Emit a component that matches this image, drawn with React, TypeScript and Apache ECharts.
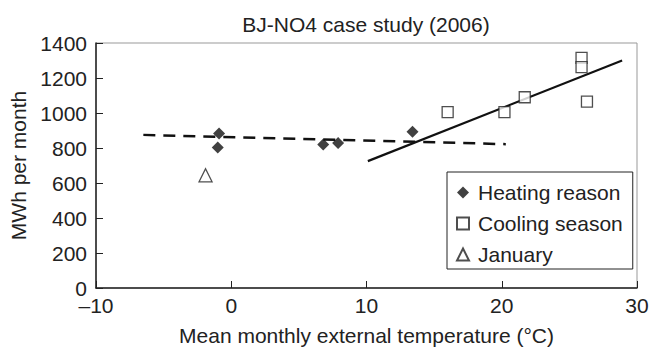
import React, { useEffect, useRef } from "react";
import * as echarts from "echarts";

const heatingPoints: [number, number][] = [
  [-0.9, 883],
  [-1.0, 803],
  [6.8, 820],
  [7.9, 829],
  [13.4, 893],
];
const coolingPoints: [number, number][] = [
  [16.0, 1005],
  [20.2, 1005],
  [21.7, 1090],
  [25.9, 1315],
  [25.9, 1262],
  [26.3, 1065],
];
const januaryPoints: [number, number][] = [[-1.9, 644]];
const heatingTrend: [number, number][] = [
  [-6.5, 875],
  [20.3, 822],
];
const coolingTrend: [number, number][] = [
  [10.1, 725],
  [28.9, 1300],
];
const seriesNames = ["Heating reason", "Cooling season", "January"];

const FONT = "'Liberation Sans', Arial, Helvetica, sans-serif";
const TXT = "#222";
const FS = 21;

export default function App() {
  const ref = useRef<HTMLDivElement>(null);
  useEffect(() => {
    if (!ref.current) return;
    const chart = echarts.init(ref.current, undefined, { renderer: "svg" });
    chart.setOption({
      animation: false,
      backgroundColor: "#fff",
      textStyle: { fontFamily: FONT, color: TXT },
      title: {
        text: "BJ-NO4 case study (2006)",
        left: 361,
        top: 9,
        textAlign: "center",
        textStyle: { fontFamily: FONT, fontSize: FS, fontWeight: "normal", color: TXT },
      },
      grid: {
        left: 96,
        right: 12,
        top: 43,
        bottom: 59,
        show: true,
        borderColor: "#999",
        borderWidth: 1,
        containLabel: false,
        outerBoundsMode: "none",
      },
      legend: {
        orient: "vertical",
        left: 447,
        top: 172,
        data: seriesNames,
        itemWidth: 12,
        itemHeight: 12,
        itemGap: 10,
        padding: [10, 10, 4, 9],
        borderColor: "#222",
        borderWidth: 1,
        backgroundColor: "#fff",
        textStyle: { fontFamily: FONT, fontSize: FS, color: TXT, padding: [0, 0, 0, 4] },
      },
      xAxis: {
        type: "value",
        min: -10,
        max: 30,
        interval: 10,
        name: "Mean monthly external temperature (°C)",
        nameLocation: "middle",
        nameGap: 37,
        nameTextStyle: { fontFamily: FONT, fontSize: FS, color: TXT },
        axisLine: { show: true, onZero: false, lineStyle: { color: "#222", width: 1.5 } },
        axisTick: { show: true, inside: true, length: 7, lineStyle: { color: "#222", width: 1 } },
        axisLabel: {
          fontFamily: FONT,
          fontSize: FS,
          color: TXT,
          margin: 7,
          formatter: (v: number) => String(v).replace("-", "–"),
        },
        splitLine: { show: false },
      },
      yAxis: {
        type: "value",
        min: 0,
        max: 1400,
        interval: 200,
        name: "MWh per month",
        nameLocation: "middle",
        nameGap: 67,
        nameTextStyle: { fontFamily: FONT, fontSize: FS, color: TXT },
        axisLine: { show: true, onZero: false, lineStyle: { color: "#222", width: 1.5 } },
        axisTick: { show: true, inside: true, length: 7, lineStyle: { color: "#222", width: 1 } },
        axisLabel: {
          fontFamily: FONT,
          fontSize: FS,
          color: TXT,
          margin: 9,
          formatter: (v: number) => String(v),
        },
        splitLine: { show: false },
      },
      series: [
        {
          name: "Heating reason",
          type: "scatter",
          symbol: "diamond",
          symbolSize: 12,
          data: heatingPoints,
          itemStyle: { color: "#111" },
          z: 5,
        },
        {
          name: "Cooling season",
          type: "scatter",
          symbol: "rect",
          symbolSize: 11,
          data: coolingPoints,
          itemStyle: { color: "#fff", borderColor: "#222", borderWidth: 1.3 },
          z: 5,
        },
        {
          name: "January",
          type: "scatter",
          symbol: "triangle",
          symbolSize: 13,
          data: januaryPoints,
          itemStyle: { color: "#fff", borderColor: "#222", borderWidth: 1.3 },
          z: 5,
        },
        {
          name: "Heating trend",
          type: "line",
          data: heatingTrend,
          showSymbol: false,
          symbol: "none",
          lineStyle: { color: "#111", width: 2.5, type: [12, 8] },
          z: 3,
        },
        {
          name: "Cooling trend",
          type: "line",
          data: coolingTrend,
          showSymbol: false,
          symbol: "none",
          lineStyle: { color: "#111", width: 2.2 },
          z: 3,
        },
      ],
    });
    return () => chart.dispose();
  }, []);
  return (
    <div
      ref={ref}
      style={{ position: "fixed", left: 0, top: 0, width: 649, height: 347 }}
    />
  );
}
